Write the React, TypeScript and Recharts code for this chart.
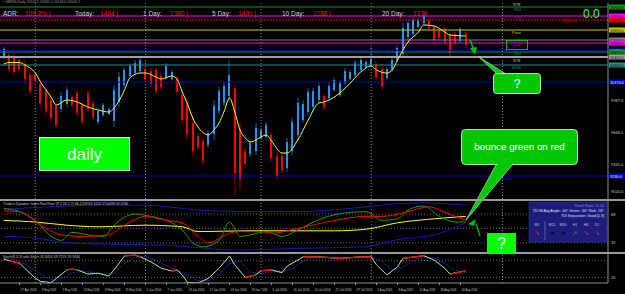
import React from "react";
import { ComposedChart, LineChart, Bar, Line, XAxis, YAxis, ReferenceLine } from "recharts";

// trading days shown (22 Apr - 25 Aug 2016)
const aprDays = [22, 25, 26, 27, 28, 29];
const mayDays = [2, 3, 4, 5, 6, 9, 10, 11, 12, 13, 16, 17, 18, 19, 20, 23, 24, 25, 26, 27, 31];
const junDays = [1, 2, 3, 6, 7, 8, 9, 10, 13, 14, 15, 16, 17, 20, 21, 22, 23, 24, 27, 28, 29, 30];
const julDays = [1, 4, 5, 6, 7, 8, 11, 12, 13, 14, 15, 18, 19, 20, 21, 22, 25, 26, 27, 28, 29];
const augDays = [1, 2, 3, 4, 5, 8, 9, 10, 11, 12, 15, 16, 17, 18, 19, 22, 23, 24, 25];

const dates = [
  ...aprDays.map((d) => `${d} Apr 2016`),
  ...mayDays.map((d) => `${d} May 2016`),
  ...junDays.map((d) => `${d} Jun 2016`),
  ...julDays.map((d) => `${d} Jul 2016`),
  ...augDays.map((d) => `${d} Aug 2016`),
];

const dateLabels = [
  "27 Apr 2016", "3 May 2016", "9 May 2016", "13 May 2016", "19 May 2016", "25 May 2016",
  "1 Jun 2016", "7 Jun 2016", "13 Jun 2016", "17 Jun 2016", "23 Jun 2016", "29 Jun 2016",
  "5 Jul 2016", "11 Jul 2016", "15 Jul 2016", "21 Jul 2016", "27 Jul 2016", "2 Aug 2016",
  "8 Aug 2016", "12 Aug 2016", "18 Aug 2016", "24 Aug 2016",
];
const monthStarts = ["2 May 2016", "1 Jun 2016", "1 Jul 2016", "1 Aug 2016"];
const futureSeparator = 95; // 1 Sep, projected

// daily candles
const opens = [
  10420, 10440, 10420, 10390, 10350, 10240, 10240, 10150, 10080, 9990,
  9930, 9900, 9950, 10020, 10060, 9940, 10060, 9960, 9770, 9840,
  9850, 9780, 9970, 10140, 10230, 10260, 10280, 10300, 10280, 10290,
  10230, 10210, 10200, 10200, 10040, 9950, 9760, 9630, 9580, 9540,
  9650, 9880, 9960, 10030, 10100, 9700, 9480, 9450, 9480, 9610,
  9620, 9640, 9430, 9430, 9310, 9480, 9640, 9790, 9870, 9920,
  9990, 10030, 10010, 10090, 10040, 10160, 10200, 10240, 10290, 10320,
  10340, 10350, 10300, 10210, 10290, 10390, 10450, 10620, 10650, 10720,
  10760, 10790, 10720, 10690, 10700, 10640, 10650, 10580, 10650,
];
const highs = [
  10520, 10470, 10460, 10410, 10390, 10270, 10260, 10190, 10120, 10020,
  9970, 10070, 10120, 10040, 10100, 9970, 10090, 9990, 9910, 9960,
  9910, 10140, 10270, 10320, 10360, 10390, 10420, 10320, 10310, 10320,
  10260, 10360, 10290, 10230, 10090, 10010, 9820, 9660, 9620, 9690,
  9990, 10120, 10170, 10390, 10140, 9760, 9520, 9590, 9760, 9710,
  9770, 9670, 9470, 9460, 9610, 9810, 10010, 9990, 10110, 10110,
  10160, 10050, 10160, 10220, 10190, 10310, 10290, 10390, 10420, 10390,
  10520, 10370, 10340, 10320, 10410, 10540, 10760, 10790, 10820, 10810,
  10860, 10810, 10740, 10710, 10720, 10660, 10670, 10720, 10670,
];
const lows = [
  10390, 10270, 10230, 10270, 10160, 10040, 10160, 9920, 9840, 9770,
  9700, 9870, 9920, 9920, 9820, 9740, 9870, 9790, 9740, 9820,
  9840, 9720, 9920, 10110, 10210, 10240, 10260, 10170, 10120, 10040,
  10090, 10190, 10190, 10040, 9740, 9590, 9420, 9490, 9340, 9510,
  9590, 9840, 9920, 9970, 9040, 9090, 9310, 9420, 9440, 9590,
  9590, 9370, 9190, 9260, 9270, 9440, 9590, 9760, 9840, 9890,
  9960, 9890, 9990, 10070, 10020, 10140, 10190, 10220, 10270, 10310,
  10320, 10190, 10090, 10190, 10270, 10370, 10410, 10590, 10620, 10710,
  10740, 10690, 10560, 10590, 10540, 10420, 10540, 10560, 10510,
];
const closes = [
  10500, 10300, 10270, 10300, 10200, 10080, 10180, 9960, 9880, 9810,
  9740, 10030, 10090, 9940, 9860, 9780, 9900, 9820, 9880, 9940,
  9900, 10090, 10220, 10290, 10330, 10360, 10390, 10200, 10150, 10080,
  10120, 10330, 10270, 10070, 9790, 9650, 9480, 9520, 9380, 9660,
  9930, 10080, 10130, 10240, 9260, 9200, 9350, 9560, 9710, 9690,
  9740, 9410, 9230, 9290, 9570, 9770, 9960, 9950, 10070, 10080,
  10130, 9920, 10130, 10190, 10160, 10280, 10270, 10360, 10390, 10370,
  10400, 10220, 10130, 10300, 10390, 10510, 10710, 10760, 10790, 10790,
  10840, 10710, 10590, 10610, 10570, 10460, 10560, 10700, 10540,
];

// yellow moving average [bar, price]
const maPoints = [
  [0, 10350], [1, 10365], [3, 10365], [4, 10340], [6, 10260], [7, 10170], [9, 10020], [10, 9940],
  [12, 9990], [14, 9970], [16, 9920], [18, 9890], [20, 9870], [21, 9910], [23, 10090], [24, 10210],
  [26, 10260], [27, 10260], [29, 10220], [30, 10200], [32, 10230], [33, 10200], [34, 10070], [35, 9950],
  [36, 9810], [37, 9720], [39, 9640], [40, 9690], [41, 9760], [42, 9880], [43, 10010], [44, 9870],
  [45, 9690], [46, 9610], [47, 9570], [48, 9590], [50, 9640], [51, 9580], [53, 9460], [54, 9460],
  [56, 9590], [58, 9790], [60, 9960], [61, 9970], [64, 10060], [66, 10160], [68, 10270], [70, 10330],
  [71, 10290], [73, 10260], [74, 10290], [75, 10390], [77, 10570], [79, 10670], [80, 10740], [82, 10730],
  [84, 10670], [85, 10640], [88, 10630],
];

// pivot / fib level lines
const levels = [
  { price: 10920, color: "#119911" },
  { price: 10830, color: "#ff00ff" },
  { price: 10790, color: "#ff0000", dash: "2 1" },
  { price: 10690, color: "#c8c800" },
  { price: 10590, color: "#808080" },
  { price: 10560, color: "#ff00ff" },
  { price: 10485, color: "#0000a8" },
  { price: 10470, color: "#119911" },
  { price: 10420, color: "#a0a0a0", width: 2 },
  { price: 10340, color: "#2f8f8f" },
  { price: 10170, color: "#0000c8" },
  { price: 9230, color: "#0000c8" },
];
const priceTicks = [10094, 9987, 9880, 9773, 9666, 9559, 9452, 9345, 9131, 9024];

// Traders Dynamic Index [bar, value]
const tdiUpper = [[0, 74], [9, 77], [18, 79], [27, 79], [37, 73], [47, 71], [56, 71], [66, 75], [72, 79], [79, 82], [88, 79]];
const tdiLower = [[0, 40], [6, 38], [12, 32], [22, 30], [31, 29], [37, 26], [44, 23], [56, 25], [69, 27], [75, 36], [82, 42], [88, 57]];
const tdiBase = [[0, 60], [6, 58], [12, 54], [18, 52], [27, 54], [34, 52], [37, 46], [47, 47], [56, 47], [63, 47], [69, 49], [75, 57], [82, 62], [88, 65]];
const tdiGreen = [
  [0, 75], [3, 71], [6, 60], [9, 40], [11, 35], [13, 45], [16, 42], [19, 40], [21, 54], [25, 68], [28, 65],
  [32, 57], [34, 48], [36, 32], [38, 27], [41, 35], [43, 58], [45, 40], [47, 42], [50, 46], [53, 40], [56, 48],
  [59, 58], [63, 67], [69, 71], [72, 60], [75, 62], [77, 73], [80, 78], [83, 65], [86, 58], [88, 58],
];
const tdiRed = [
  [0, 72], [3, 71], [7, 54], [11, 42], [15, 40], [20, 42], [23, 54], [27, 65], [31, 60], [34, 57], [37, 40],
  [39, 32], [43, 44], [45, 46], [49, 46], [51, 44], [56, 50], [63, 60], [69, 65], [72, 65], [77, 71], [81, 77],
  [83, 73], [86, 65], [88, 60],
];

// stochastic [bar, value]
const stochMain = [
  [0, 86], [1, 80], [3, 71], [4, 53], [6, 17], [7, 6], [9, 1], [12, 47], [13, 50], [14, 47], [16, 32], [18, 35],
  [20, 25], [21, 47], [23, 97], [25, 100], [26, 94], [28, 76], [30, 53], [32, 43], [33, 47], [34, 29], [35, 2],
  [37, 0], [39, 17], [41, 53], [43, 97], [44, 65], [46, 20], [48, 29], [49, 44], [51, 47], [53, 37], [54, 61],
  [56, 82], [57, 94], [60, 94], [64, 88], [68, 94], [70, 94], [71, 65], [73, 29], [75, 58], [76, 88], [80, 98],
  [82, 82], [84, 53], [85, 32], [87, 40], [88, 43],
];
const stochRedRuns = [
  [[1, 80], [3, 71]],
  [[12, 47], [13, 50], [14, 47]],
  [[23, 97], [25, 100], [26, 94]],
  [[32, 43], [33, 47]],
  [[46, 20], [48, 29]],
  [[49, 44], [51, 47]],
  [[57, 94], [60, 94], [64, 88], [68, 94], [70, 94]],
  [[76, 88], [80, 98]],
  [[85, 32], [87, 40], [88, 43]],
];
const stochSignal = [
  [0, 88], [2, 84], [4, 68], [6, 45], [8, 20], [10, 8], [12, 25], [14, 45], [16, 40], [19, 32], [21, 35],
  [23, 70], [25, 93], [27, 95], [29, 82], [31, 62], [33, 45], [35, 30], [37, 8], [39, 8], [41, 30], [43, 70],
  [45, 78], [47, 40], [49, 32], [51, 42], [53, 42], [55, 50], [57, 80], [59, 92], [62, 93], [66, 90], [70, 93],
  [72, 78], [74, 45], [76, 55], [78, 82], [80, 93], [82, 90], [84, 70], [86, 45], [88, 38],
];

const infoItems = [
  { label: "ADR:", value: "109.8% |", lx: 3, vx: 25 },
  { label: "Today:", value: "1484 |", lx: 75, vx: 100 },
  { label: "1 Day:", value: "1380 |", lx: 143, vx: 170 },
  { label: "5 Day:", value: "1490 |", lx: 212, vx: 238 },
  { label: "10 Day:", value: "1288 |", lx: 282, vx: 313 },
  { label: "20 Day:", value: "1378", lx: 382, vx: 413 },
];

const X_DOMAIN: [number, number] = [-0.724, 115.1];
const FONT = "Liberation Sans, Arial, sans-serif";
const toPts = (arr: number[][]) => arr.map(([i, v]) => ({ i, v }));

const candles = dates.map((date, i) => ({
  i,
  date,
  open: opens[i],
  high: highs[i],
  low: lows[i],
  close: closes[i],
  range: [lows[i], highs[i]],
}));

function Candle(props: any) {
  const { x, y, width, height, payload } = props;
  if (!payload) return null;
  const top = Math.min(y, y + height);
  const h = Math.abs(height);
  const k = h / (payload.high - payload.low || 1);
  const up = payload.close >= payload.open;
  const cx = Math.round(x + width / 2);
  const yo = top + (payload.high - payload.open) * k;
  const yc = top + (payload.high - payload.close) * k;
  return (
    <g>
      <line x1={cx} x2={cx} y1={top} y2={top + h} stroke={up ? "#1a5d9c" : "#9a0000"} strokeWidth={1} />
      <rect
        x={cx - 1}
        y={Math.min(yo, yc)}
        width={2}
        height={Math.max(1, Math.abs(yc - yo))}
        fill={up ? "#2196f3" : "#ff0000"}
      />
    </g>
  );
}

function LevelTag(props: any) {
  const { viewBox, color, price } = props;
  if (!viewBox) return null;
  const x = viewBox.x + viewBox.width + 1;
  const dark = color === "#0000c8" || color === "#0000a8";
  return (
    <g>
      <rect x={x} y={viewBox.y - 2.5} width={16} height={5} fill={color} />
      <text x={x + 1} y={viewBox.y + 1.5} fontSize={3.8} fill={dark ? "#ffffff" : "#000000"} fontFamily={FONT}>
        {price.toFixed(1)}
      </text>
    </g>
  );
}

const AxisTick = (digits: number) => (props: any) => {
  const { x, y, payload } = props;
  return (
    <text x={x + 1} y={y + 1.5} fontSize={4} fill="#c8c8c8" fontFamily={FONT}>
      {Number(payload.value).toFixed(digits)}
    </text>
  );
};

const DateTick = (props: any) => {
  const { x, y, payload } = props;
  const label = dates[payload.value] || "";
  return (
    <text
      x={x + 1}
      y={y + 4}
      fontSize={3.8}
      fill="#c8c8c8"
      fontFamily={FONT}
      textLength={label.length * 1.45}
      lengthAdjust="spacingAndGlyphs"
    >
      {label}
    </text>
  );
};

const separators = [...monthStarts.map((d) => dates.indexOf(d)), futureSeparator];
const dateTicks = dateLabels.map((d) => dates.indexOf(d));

export default function App() {
  return (
    <div style={{ position: "absolute", left: 0, top: 0, width: 625, height: 294, background: "#000", overflow: "hidden" }}>
      {/* price panel */}
      <div style={{ position: "absolute", left: 0, top: 0 }}>
        <ComposedChart width={625} height={200} data={candles} margin={{ top: 3, right: 0, bottom: 1, left: 0 }}>
          <XAxis type="number" dataKey="i" domain={X_DOMAIN} allowDataOverflow hide />
          <YAxis
            orientation="right"
            width={17}
            domain={[9000, 10960]}
            allowDataOverflow
            ticks={priceTicks}
            tick={AxisTick(1)}
            tickSize={0}
            axisLine={{ stroke: "#909090" }}
            tickLine={false}
          />
          {separators.map((s) => (
            <ReferenceLine key={"s" + s} x={s} stroke="#8a8a8a" strokeDasharray="1 2" />
          ))}
          {levels.map((l) => (
            <ReferenceLine
              key={l.price}
              y={l.price}
              stroke={l.color}
              strokeWidth={l.width || 1}
              strokeDasharray={l.dash}
              label={<LevelTag color={l.color} price={l.price} />}
            />
          ))}
          <Bar dataKey="range" barSize={3} shape={<Candle />} isAnimationActive={false} />
          <Line
            data={toPts(maPoints)}
            dataKey="v"
            type="monotone"
            stroke="#ffff00"
            strokeWidth={1}
            dot={false}
            activeDot={false}
            isAnimationActive={false}
          />
        </ComposedChart>
      </div>

      {/* TDI panel */}
      <div style={{ position: "absolute", left: 0, top: 201 }}>
        <LineChart width={625} height={51} margin={{ top: 0, right: 0, bottom: 0, left: 0 }}>
          <XAxis type="number" dataKey="i" domain={X_DOMAIN} allowDataOverflow hide />
          <YAxis
            orientation="right"
            width={17}
            domain={[20.5, 84.25]}
            allowDataOverflow
            ticks={[68, 50, 32]}
            tick={AxisTick(0)}
            tickSize={0}
            axisLine={{ stroke: "#909090" }}
            tickLine={false}
          />
          {separators.map((s) => (
            <ReferenceLine key={"s" + s} x={s} stroke="#8a8a8a" strokeDasharray="1 2" />
          ))}
          {[68, 50, 32].map((v) => (
            <ReferenceLine key={v} y={v} stroke="#6a6a6a" strokeDasharray="1 2" />
          ))}
          <Line data={toPts(tdiUpper)} dataKey="v" type="monotone" stroke="#1818b8" dot={false} activeDot={false} isAnimationActive={false} />
          <Line data={toPts(tdiLower)} dataKey="v" type="monotone" stroke="#1818b8" dot={false} activeDot={false} isAnimationActive={false} />
          <Line data={toPts(tdiBase)} dataKey="v" type="monotone" stroke="#ffff00" dot={false} activeDot={false} isAnimationActive={false} />
          <Line data={toPts(tdiGreen)} dataKey="v" type="monotone" stroke="#10a010" dot={false} activeDot={false} isAnimationActive={false} />
          <Line data={toPts(tdiRed)} dataKey="v" type="monotone" stroke="#ff0000" dot={false} activeDot={false} isAnimationActive={false} />
        </LineChart>
      </div>

      {/* stochastic panel + time axis */}
      <div style={{ position: "absolute", left: 0, top: 254 }}>
        <LineChart width={625} height={40} margin={{ top: 0, right: 0, bottom: 0, left: 0 }}>
          <XAxis
            type="number"
            dataKey="i"
            domain={X_DOMAIN}
            allowDataOverflow
            ticks={dateTicks}
            interval={0}
            tick={DateTick}
            tickSize={2}
            height={11}
            axisLine={{ stroke: "#909090" }}
            tickLine={{ stroke: "#909090" }}
          />
          <YAxis
            orientation="right"
            width={17}
            domain={[0, 104]}
            allowDataOverflow
            ticks={[100, 80, 20]}
            tick={AxisTick(0)}
            tickSize={0}
            axisLine={{ stroke: "#909090" }}
            tickLine={false}
          />
          {separators.map((s) => (
            <ReferenceLine key={"s" + s} x={s} stroke="#8a8a8a" strokeDasharray="1 2" />
          ))}
          {[80, 20].map((v) => (
            <ReferenceLine key={v} y={v} stroke="#6a6a6a" strokeDasharray="1 2" />
          ))}
          <Line data={toPts(stochSignal)} dataKey="v" type="linear" stroke="#2a40ff" strokeDasharray="1 1" dot={false} activeDot={false} isAnimationActive={false} />
          <Line data={toPts(stochMain)} dataKey="v" type="linear" stroke="#b8e6b0" dot={false} activeDot={false} isAnimationActive={false} />
          {stochRedRuns.map((run, k) => (
            <Line key={k} data={toPts(run)} dataKey="v" type="linear" stroke="#ff0000" strokeWidth={1.3} dot={false} activeDot={false} isAnimationActive={false} />
          ))}
        </LineChart>
      </div>

      {/* annotations drawn on the terminal */}
      <svg width={625} height={294} style={{ position: "absolute", left: 0, top: 0, pointerEvents: "none" }} fontFamily={FONT}>
        <text x={3} y={3} fontSize={3.5} fill="#9a9a9a">▪ GER30,Daily  10543.5 10561.0 10516.0 10540.2</text>
        {infoItems.map((it) => (
          <g key={it.label}>
            <text x={it.lx} y={15.5} fontSize={6.5} fill="#d0d0d0">{it.label}</text>
            <text x={it.vx} y={15.5} fontSize={6.5} fill="#ff1010">{it.value}</text>
          </g>
        ))}
        <text x={583} y={18} fontSize={12} fill="#33ff44">0.0</text>
        <text x={562} y={23} fontSize={4.5} fill="#c00000">5/8H=E</text>

        {/* level names */}
        <text x={513} y={6} fontSize={4} fill="#c0c0c0">R78</text>
        <text x={514} y={11} fontSize={4} fill="#1aa01a">R61</text>
        <text x={514} y={20} fontSize={4} fill="#a000a0">R38</text>
        <text x={512} y={34} fontSize={4} fill="#c8c800">Pivot</text>
        <rect x={506.5} y={40.5} width={21} height={9} fill="none" stroke="#00c000" strokeWidth={1} />
        <text x={513} y={47} fontSize={4} fill="#c000c0">S38</text>
        <text x={514} y={55} fontSize={4} fill="#1aa01a">S61</text>
        <text x={513} y={62} fontSize={4} fill="#c0c0c0">S78</text>
        <text x={512} y={69} fontSize={4} fill="#2f9f9f">S100</text>
        <text x={502} y={179.5} fontSize={3.5} fill="#2a2aff">9230.0</text>

        {/* arrow under last bar */}
        <line x1={470} y1={40} x2={474} y2={50} stroke="#00c000" strokeWidth={1.5} />
        <polygon points="470,48 477,47 475,55" fill="#00c000" />

        {/* "?" callout on price */}
        <polygon points="479,57 497,74 506,74" fill="#00c800" stroke="#e0ffe0" strokeWidth={0.6} />
        <rect x={493.5} y={73.5} width={47} height={20} rx={3} fill="#00c800" stroke="#e8ffe8" strokeWidth={0.8} />
        <text x={517} y={88} fontSize={12} fill="#ffffff" textAnchor="middle">?</text>

        {/* daily tag */}
        <rect x={39.5} y={137.5} width={90} height={33} fill="#00ff00" stroke="#c8ffc8" strokeWidth={1} />
        <text x={84.5} y={160} fontSize={17} fill="#ffffff" textAnchor="middle">daily</text>

        {/* bounce callout */}
        <polygon points="497,163 514,163 466,220" fill="#00c800" stroke="#e0ffe0" strokeWidth={0.6} />
        <rect x={461.5} y={129.5} width={116} height={35} rx={4} fill="#00c800" stroke="#e8ffe8" strokeWidth={0.8} />
        <polygon points="498,163 513,163 490,190" fill="#00c800" />
        <text x={519.5} y={150} fontSize={9.8} fill="#ffffff" textAnchor="middle">bounce green on red</text>

        {/* separators between panels */}
        <rect x={0} y={199} width={625} height={2} fill="#9a9a9a" />
        <rect x={0} y={252} width={625} height={2} fill="#9a9a9a" />

        {/* TDI arrows */}
        <polygon points="468,224 476,219 474,226" fill="#00c000" />
        <line x1={476} y1={224} x2={480} y2={236} stroke="#00c000" strokeWidth={1.2} />

        {/* ? box on TDI */}
        <rect x={487} y={233} width={29} height={20} fill="#00ff00" />
        <text x={501.5} y={249} fontSize={16} fill="#ffffff" textAnchor="middle">?</text>

        {/* TDI info panel */}
        <rect x={529} y={202} width={78} height={40} fill="#1c1c7a" stroke="#3a3a9a" strokeWidth={0.5} />
        <text x={604} y={207} fontSize={3.6} fill="#8a8acc" textAnchor="end">Panel Ratio: 11.03</text>
        <text x={604} y={212} fontSize={3.6} fill="#e0e0ff" textAnchor="end">TDI M.Avg Angle: -60°  Green: -66°  Red: -58°</text>
        <text x={604} y={217} fontSize={3.6} fill="#e0e0ff" textAnchor="end">TDI Separation: Good [1.9]</text>
        <line x1={545} y1={221} x2={545} y2={240} stroke="#7a7ab0" strokeWidth={0.7} />
        {[
          { t: "M5", x: 537, c: "#ff2020", a: "➘" },
          { t: "M15", x: 552, c: "#000000", a: "➜" },
          { t: "M30", x: 563, c: "#000000", a: "➜" },
          { t: "H1", x: 575, c: "#10c010", a: "➚" },
          { t: "H4", x: 586, c: "#ff2020", a: "➘" },
          { t: "D1", x: 597, c: "#ff2020", a: "➘" },
        ].map((m) => (
          <g key={m.t}>
            <text x={m.x} y={226} fontSize={3.6} fill="#c0c0e0" textAnchor="middle">{m.t}</text>
            <text x={m.x} y={235} fontSize={6} fill={m.c} textAnchor="middle" fontFamily="DejaVu Sans">{m.a}</text>
          </g>
        ))}

        {/* indicator headers */}
        <text x={3} y={205} fontSize={3.5} fill="#c0c0c0">Traders Dynamic Index RealTime (9,2,34,2,7) 86.1258 83.3224 57.6498 59.3746</text>
        <text x={3} y={258} fontSize={3.5} fill="#c0c0c0">Stoch(8,3,3) with Stoch 42.8453 49.7724 29.9444</text>
      </svg>
    </div>
  );
}
